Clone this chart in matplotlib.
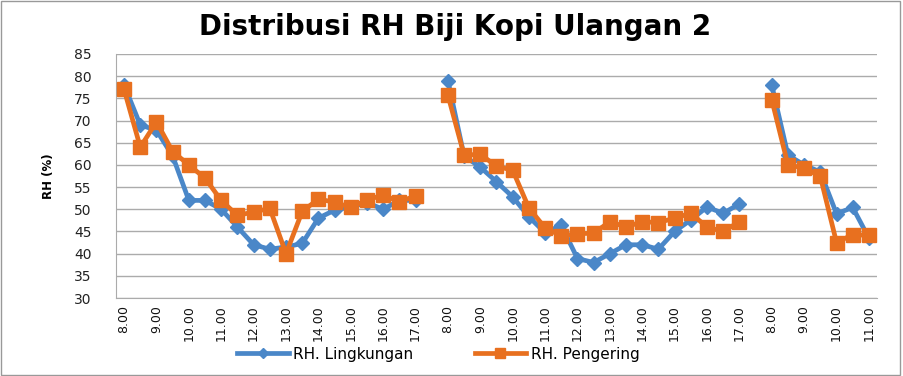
import numpy as np
import matplotlib
matplotlib.use('Agg')
from matplotlib import pyplot as plt
from matplotlib.patches import Rectangle

nan = np.nan

# tick labels, one per hour (every second half-hour slot)
jam = ['8.00', '9.00', '10.00', '11.00', '12.00', '13.00', '14.00', '15.00', '16.00', '17.00',
       '8.00', '9.00', '10.00', '11.00', '12.00', '13.00', '14.00', '15.00', '16.00', '17.00',
       '8.00', '9.00', '10.00', '11.00']

# half-hourly readings, nan = gap between days
rh_lingkungan = [78, 69, 67.8, 62, 52, 52, 50, 46, 42, 41, 41.5, 42.3, 48, 49.8, 50.5, 51.5, 50, 52, 52, nan,
                 79, 62, 59.5, 56.2, 52.8, 48.3, 44.7, 46.4, 38.9, 38, 40, 42, 42, 41, 45, 47.6, 50.5, 49.1, 51.2, nan,
                 78, 62.2, 60, 58.4, 49, 50.4, 43.5]
rh_pengering = [77, 64, 69.7, 63, 60, 57, 52, 48.6, 49.4, 50.2, 40, 49.5, 52.3, 51.6, 50.4, 52.1, 53.2, 51.7, 53, nan,
                75.7, 62.2, 62.4, 59.7, 58.8, 50.3, 45.8, 44, 44.5, 44.6, 47.2, 46, 47.2, 47, 48, 49.1, 46, 45, 47.2, nan,
                74.7, 60, 59.3, 57.4, 42.5, 44.3, 44.1]

x = np.arange(len(rh_lingkungan))

plt.rcParams['font.family'] = ['DejaVu Sans']

fig = plt.figure(figsize=(9.04, 3.76), dpi=100)
ax = fig.add_axes([116/904, 1-298/376, (877-116)/904, (298-54)/376])

blue = '#4a87c8'
orange = '#e8701f'
ax.plot(x, rh_lingkungan, color=blue, lw=3.4, marker='D', ms=7, label='RH. Lingkungan', zorder=3)
ax.plot(x, rh_pengering, color=orange, lw=3.4, marker='s', ms=9.5, label='RH. Pengering', zorder=4)

ax.set_xlim(-0.5, len(x) - 0.5)
ax.set_ylim(30, 85)
ax.set_yticks(range(30, 90, 5))
ax.set_xticks(x[::2])
ax.set_xticklabels(jam, rotation=90, fontsize=9)
ax.tick_params(axis='y', labelsize=10, length=0, pad=17.5, colors='#222222')
ax.tick_params(axis='x', length=0, pad=5, colors='#111111')
ax.grid(axis='y', color='#ababab', lw=1)
ax.set_axisbelow(True)
for s in ['top', 'right']:
    ax.spines[s].set_visible(False)
ax.spines['left'].set_color('#ababab')
ax.spines['bottom'].set_color('#ababab')

ax.set_ylabel('RH (%)', fontsize=8.5, fontweight='bold', labelpad=14)
fig.text(0.503, 0.928, 'Distribusi RH Biji Kopi Ulangan 2', ha='center', va='center',
         fontsize=20, fontweight='bold')

leg = ax.legend(loc='center left', bbox_to_anchor=(223/904, 1-354/376), bbox_transform=fig.transFigure,
                ncol=2, frameon=False, fontsize=11, handlelength=3.4, handletextpad=0.3,
                columnspacing=4, markerscale=0.8)

fig.patches.append(Rectangle((1/904, 1/376), 899/904, 374/376, transform=fig.transFigure,
                             fill=False, edgecolor='#999999', lw=1))

fig.savefig('out.png', dpi=100)
